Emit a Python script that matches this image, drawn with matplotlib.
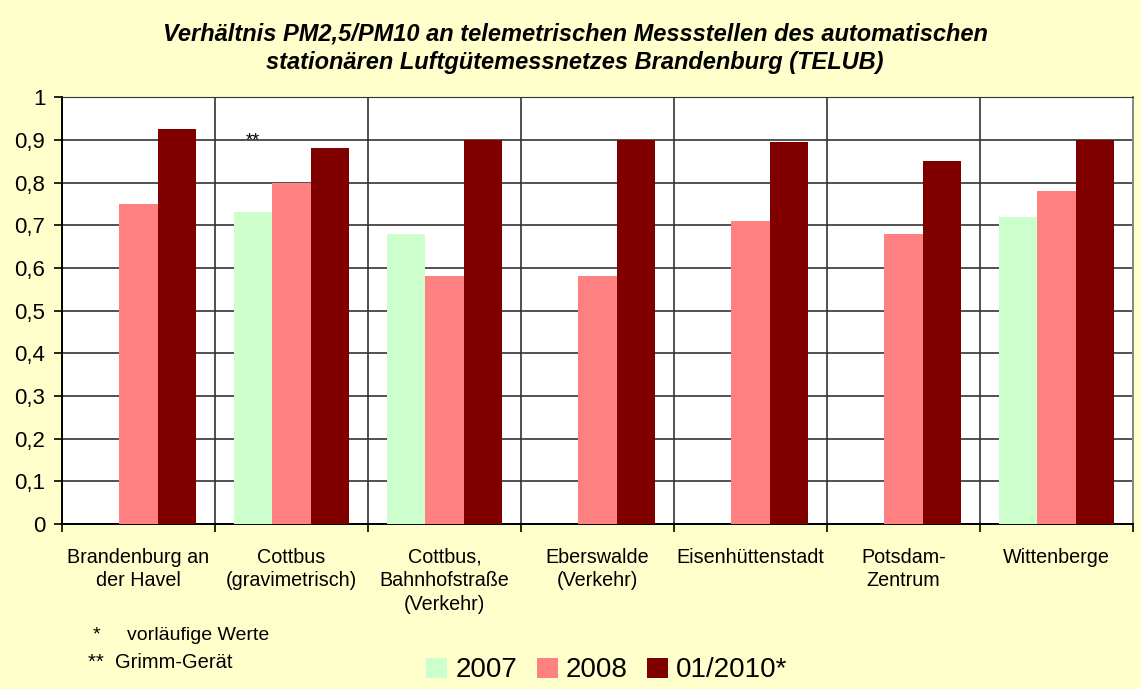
import matplotlib
matplotlib.use("Agg")
import matplotlib.pyplot as plt
import numpy as np
from matplotlib.patches import Patch

plt.rcParams['font.family'] = ['Liberation Sans', 'DejaVu Sans']

stations = ["Brandenburg an\nder Havel", "Cottbus\n(gravimetrisch)", "Cottbus,\nBahnhofstraße\n(Verkehr)",
            "Eberswalde\n(Verkehr)", "Eisenhüttenstadt", "Potsdam-\nZentrum", "Wittenberge"]
series_names = ["2007", "2008", "01/2010*"]
v2007 = [np.nan, 0.73, 0.68, np.nan, np.nan, np.nan, 0.72]
v2008 = [0.75, 0.80, 0.58, 0.58, 0.71, 0.68, 0.78]
v2010 = [0.925, 0.88, 0.90, 0.90, 0.895, 0.85, 0.90]
colors = ["#CCFFCC", "#FF8080", "#800000"]
yticks = [0, 0.1, 0.2, 0.3, 0.4, 0.5, 0.6, 0.7, 0.8, 0.9, 1]

fig = plt.figure(figsize=(11.41, 6.89), dpi=100)
fig.patch.set_facecolor("#FFFFCC")
ax = fig.add_axes([0.0543, 0.2395, 0.9387, 0.6195])
ax.set_facecolor("white")

x = np.arange(len(stations))
w = 0.25
for k, vals in enumerate([v2007, v2008, v2010]):
    ax.bar(x + (k - 1) * w, vals, width=w, color=colors[k], linewidth=0, zorder=3)

ax.set_xlim(-0.5, len(stations) - 0.5)
ax.set_ylim(0, 1)
ax.set_yticks(yticks)
ax.set_yticklabels([("%g" % t).replace(".", ",") for t in yticks], fontsize=16)
ax.yaxis.grid(True, color="#333333", linewidth=1.2, zorder=1)

# category boundaries: vertical grid and outward ticks
bounds = np.arange(-0.5, len(stations), 1.0)
ax.set_xticks(bounds, minor=True)
ax.set_xticks(x)
ax.set_xticklabels(stations, fontsize=14.2, linespacing=1.3, va="top")
ax.tick_params(axis="x", which="major", length=0, pad=17)
ax.tick_params(axis="x", which="minor", length=6, width=1.2, color="black")
ax.tick_params(axis="y", length=6, width=1.2, pad=6)
ax.xaxis.grid(True, which="minor", color="#333333", linewidth=1.2, zorder=1)

for s in ["left", "bottom"]:
    ax.spines[s].set_color("black")
    ax.spines[s].set_linewidth(1.4)
ax.spines["top"].set_color("#333333")
ax.spines["right"].set_color("#888888")
ax.spines["right"].set_linewidth(1.4)

ax.text(1 - w, 0.898, "**", ha="center", va="center", fontsize=13, zorder=4)

fig.text(0.504, 0.930, "Verhältnis PM2,5/PM10 an telemetrischen Messstellen des automatischen\n"
         "stationären Luftgütemessnetzes Brandenburg (TELUB)",
         ha="center", va="center", fontsize=17, fontweight="bold", fontstyle="italic", linespacing=1.35)

fig.text(0.081, 0.078, "*", fontsize=14, ha="left", va="center")
fig.text(0.111, 0.078, "vorläufige Werte", fontsize=14, ha="left", va="center")
fig.text(0.077, 0.039, "**  Grimm-Gerät", fontsize=14.5, ha="left", va="center")

handles = [Patch(facecolor=c, edgecolor="none") for c in colors]
fig.legend(handles, series_names, loc="center", bbox_to_anchor=(0.532, 0.027), ncol=3,
           frameon=False, fontsize=20, handlelength=0.75, handleheight=0.75,
           handletextpad=0.3, columnspacing=0.7)

fig.savefig("out.png", dpi=100, facecolor=fig.get_facecolor())
